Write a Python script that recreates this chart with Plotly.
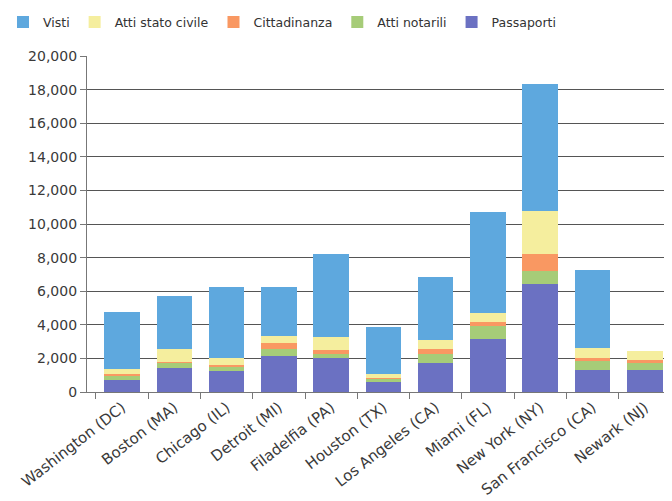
import plotly.graph_objects as go

categories = ["Washington (DC)", "Boston (MA)", "Chicago (IL)", "Detroit (MI)",
              "Filadelfia (PA)", "Houston (TX)", "Los Angeles (CA)", "Miami (FL)",
              "New York (NY)", "San Francisco (CA)", "Newark (NJ)"]

passaporti = [730, 1400, 1260, 2150, 2030, 600, 1750, 3150, 6450, 1330, 1330]
atti_notarili = [250, 350, 200, 430, 250, 200, 530, 750, 750, 510, 370]
cittadinanza = [100, 40, 140, 350, 200, 50, 300, 240, 1000, 160, 220]
atti_stato_civile = [270, 750, 430, 430, 820, 230, 490, 570, 2600, 590, 550]
visti = [3400, 3150, 4230, 2900, 4900, 2780, 3800, 6000, 7550, 4650, 0]

series = [
    ("Passaporti", passaporti, "#6b71c2"),
    ("Atti notarili", atti_notarili, "#a6cc78"),
    ("Cittadinanza", cittadinanza, "#f99862"),
    ("Atti stato civile", atti_stato_civile, "#f5ee9e"),
    ("Visti", visti, "#5ea8de"),
]

fig = go.Figure()
for name, vals, col in series:
    fig.add_trace(go.Bar(x=categories, y=vals, name=name,
                         marker=dict(color=col, line=dict(width=0)),
                         width=0.68))

# page body has an 8px default margin; the figure is sized to fill the rest
fig.update_layout(
    barmode="stack",
    width=664, height=493,
    margin=dict(l=79, r=0, t=48, b=109, autoexpand=False),
    paper_bgcolor="white", plot_bgcolor="white",
    font=dict(family="DejaVu Sans", color="#3a3a3a", size=13),
    showlegend=True,
    legend=dict(orientation="h", traceorder="reversed",
                x=-0.1436, xanchor="left", y=1.1, yanchor="middle",
                font=dict(family="DejaVu Sans", size=12.5, color="#333"),
                itemwidth=30),
    xaxis=dict(
        range=[-0.67, 10.52], automargin=False,
        showline=True, linecolor="#777", linewidth=1.2,
        ticks="outside", tickson="boundaries", ticklen=6, tickcolor="#777",
        tickangle=-38, tickfont=dict(family="DejaVu Sans", size=15, color="#3a3a3a"),
        showgrid=False,
    ),
    yaxis=dict(
        range=[0, 20000], dtick=2000, tickformat=",", automargin=False,
        showline=True, linecolor="#777", linewidth=1.2,
        ticks="outside", ticklen=6, tickcolor="#777",
        showgrid=True, gridcolor="#555", gridwidth=1.3,
        tickfont=dict(family="DejaVu Sans", size=14, color="#3a3a3a"),
        zeroline=False,
    ),
)

fig.write_html("out.html")
